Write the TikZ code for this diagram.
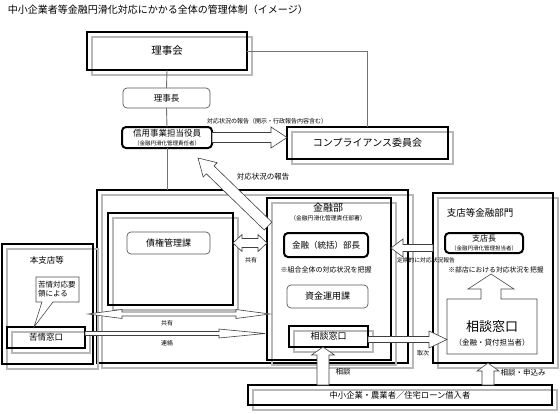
\documentclass[tikz,border=0pt]{standalone}
\usepackage{fontspec}
\setmainfont{Noto Sans CJK JP}
\usetikzlibrary{calc}
\newcommand\myfs[1]{\fontsize{#1}{#1}\selectfont}
% hollow single arrow: start, end, shaft half width, head half width, head length
\newcommand\harrow[5]{%
  \coordinate (hb) at ($(#2)!#5!(#1)$);
  \path[ha] ($(#1)!#3!90:(#2)$) -- ($(hb)!#3!90:(#2)$) -- ($(hb)!#4!90:(#2)$) -- (#2)
    -- ($(hb)!#4!-90:(#2)$) -- ($(hb)!#3!-90:(#2)$) -- ($(#1)!#3!-90:(#2)$) -- cycle;}
% hollow double arrow
\newcommand\hdarrow[5]{%
  \coordinate (hbA) at ($(#2)!#5!(#1)$);
  \coordinate (hbB) at ($(#1)!#5!(#2)$);
  \path[ha] (#1) -- ($(hbB)!#4!90:(#2)$) -- ($(hbB)!#3!90:(#2)$) -- ($(hbA)!#3!90:(#2)$)
    -- ($(hbA)!#4!90:(#2)$) -- (#2) -- ($(hbA)!#4!-90:(#2)$) -- ($(hbA)!#3!-90:(#2)$)
    -- ($(hbB)!#3!-90:(#2)$) -- ($(hbB)!#4!-90:(#2)$) -- cycle;}
\begin{document}
\begin{tikzpicture}[x=1pt,y=-1pt,
  every node/.style={inner sep=0pt,outer sep=0pt},
  sh/.style={preaction={draw=black!28,line width=1.8pt,transform canvas={shift={(5pt,-5pt)}}}},
  tbox/.style={draw=black,line width=2.3pt},
  mbox/.style={draw=black,line width=1.6pt},
  rthin/.style={draw=black!65,line width=0.7pt,rounded corners=4pt},
  rthick/.style={draw=black,line width=2pt,rounded corners=4pt},
  conn/.style={draw=black!55,line width=0.9pt},
  ha/.style={draw=black!75,line width=0.6pt,fill=white,line join=miter},
  callout/.style={draw=black!70,line width=0.6pt},
]
\useasboundingbox (0,0) rectangle (560,413);

\node[anchor=west,font=\myfs{10}] (title) at (8,10) {中小企業者等金融円滑化対応にかかる全体の管理体制（イメージ）};

% top chain
\node[tbox,sh,minimum width=160pt,minimum height=38pt,font=\myfs{10.5}] (rijikai) at (167,51) {理事会};
\node[rthin,minimum width=87pt,minimum height=20pt,font=\myfs{8.5}] (rijicho) at (166.5,98) {理事長};
\node[rthick,minimum width=90pt,minimum height=21pt,align=center,font=\myfs{8.5}] (shin) at (167,137.5)
  {信用事業担当役員\\[1pt]{\myfs{5.5}（金融円滑化管理責任者）}};
\node[tbox,sh,minimum width=161pt,minimum height=32pt,font=\myfs{10}] (comp) at (367.5,143) {コンプライアンス委員会};

% main frame
\node[tbox,sh,minimum width=311pt,minimum height=173pt] (main) at (252.5,276.5) {};
\node[tbox,sh,minimum width=125pt,minimum height=92pt] (saiken) at (170.5,259) {};
\node[rthin,minimum width=83pt,minimum height=22pt,font=\myfs{9}] (saikenka) at (168.5,243) {債権管理課};

% kinyubu
\node[tbox,sh,minimum width=124pt,minimum height=162pt] (kinyubu) at (329,279) {};
\node[font=\myfs{10}] (kinyut) at (328,208) {金融部};
\node[font=\myfs{5.8}] (kinyus) at (328,218.5) {（金融円滑化管理責任部署）};
\node[rthick,minimum width=84pt,minimum height=24pt,font=\myfs{8.5}] (bucho) at (326,245) {金融（統括）部長};
\node[font=\myfs{7}] (haaku1) at (326,270) {※組合全体の対応状況を把握};
\node[rthin,minimum width=81pt,minimum height=23pt,font=\myfs{9}] (shikin) at (327.5,296.5) {資金運用課};
\node[mbox,sh,minimum width=79pt,minimum height=21pt,font=\myfs{9}] (sodan1) at (328.5,336.5) {相談窓口};

% shiten
\node[tbox,sh,minimum width=120pt,minimum height=170pt] (shiten) at (493,278) {};
\node[font=\myfs{9.5}] (shitent) at (480,213) {支店等金融部門};
\node[rthick,minimum width=78pt,minimum height=20pt,align=center,font=\myfs{8}] (shitencho) at (484,243)
  {支店長\\[0.5pt]{\myfs{5.5}（金融円滑化管理担当者）}};
\node[font=\myfs{6.8}] (haaku2) at (496,270) {※部店における対応状況を把握};
\node[minimum width=90pt,minimum height=55pt] (sodan2) at (492,326.5) {};
\draw[callout] (sodan2.south west) -- (sodan2.north west) -- ($(sodan2.north)+(-11,0)$) -- ($(sodan2.north)+(-11,-10)$)
  -- ($(sodan2.north)+(-24,-10)$) -- ($(sodan2.north)+(-1,-25)$) -- ($(sodan2.north)+(22,-10)$)
  -- ($(sodan2.north)+(9,-10)$) -- ($(sodan2.north)+(9,0)$) -- (sodan2.north east) -- (sodan2.south east) -- cycle;
\node[font=\myfs{13}] (sodan2a) at (492,327) {相談窓口};
\node[font=\myfs{7.5}] (sodan2b) at (492,343) {（金融・貸付担当者）};

% honshiten
\node[tbox,sh,minimum width=91pt,minimum height=120pt] (honshi) at (47.5,304) {};
\node[font=\myfs{8.5}] (honshit) at (47,260) {本支店等};
\node[mbox,sh,minimum width=78pt,minimum height=21pt,font=\myfs{8.5}] (kujomado) at (46,337.5) {苦情窓口};
\node[minimum width=43pt,minimum height=25pt,align=left,font=\myfs{7.5},text width=39pt,inner xsep=2pt] (kujo) at (57.5,289.5)
  {苦情対応要\\[1.5pt]領による};
\coordinate (kujotip) at ($(kujomado.north west)+(27,0)$);
\draw[callout] (kujo.south west) -- (kujo.north west) -- (kujo.north east) -- (kujo.south east)
  -- ($(kujo.south west)+(17,0)$) -- (kujotip) -- ($(kujo.south west)+(6,0)$) -- cycle;

% customers
\node[tbox,sh,minimum width=304pt,minimum height=20pt,font=\myfs{8.3}] (chusho) at (400,395) {中小企業・農業者／住宅ローン借入者};

% plain connectors
\draw[conn] (rijikai.south) -- (rijicho.north);
\draw[conn] (rijicho.south) -- (shin.north);
\draw[conn] (shin.south) -- (shin.south |- main.north);
\draw[conn] (rijikai.east) -| (comp.north);

% hollow arrows
\coordinate (a1s) at (shin.east);
\coordinate (a1e) at (comp.west |- shin.east);
\harrow{a1s}{a1e}{5pt}{10.5pt}{16pt}
\node[font=\myfs{6}] (l1) at (267,121) {対応状況の報告（開示・行政報告内容含む）};

\coordinate (a2s) at ($(kinyubu.north west)+(1,28)$);
\coordinate (a2e) at (198,158);
\harrow{a2s}{a2e}{5.5pt}{10pt}{17pt}
\node[font=\myfs{7.5}] (l2) at (263,177) {対応状況の報告};

\coordinate (a3s) at (saiken.east |- saikenka);
\coordinate (a3e) at (kinyubu.west |- saikenka);
\hdarrow{a3s}{a3e}{4.5pt}{8.5pt}{9pt}
\node[font=\myfs{6}] (l3) at (251,260) {共有};

\coordinate (a4s) at ($(shiten.west)+(0,-30)$);
\coordinate (a4e) at (kinyubu.east |- a4s);
\harrow{a4s}{a4e}{3.5pt}{9pt}{12pt}
\node[font=\myfs{5.8}] (l4) at (426,260) {定期的に対応状況報告};

\coordinate (a5s) at ($(sodan1.east)+(0,3)$);
\coordinate (a5e) at (sodan2.west |- a5s);
\harrow{a5s}{a5e}{3pt}{8.5pt}{18pt}
\node[font=\myfs{6}] (l5) at (423,353) {取次};

\coordinate (a6s) at ($(chusho.north west)+(75,0)$);
\coordinate (a6e) at (a6s |- sodan1.south);
\harrow{a6s}{a6e}{6pt}{11.5pt}{8pt}
\node[font=\myfs{7.5}] (l6) at (343,372) {相談};

\coordinate (a7s) at ($(chusho.north)+(88,0)$);
\coordinate (a7e) at (a7s |- shiten.south);
\harrow{a7s}{a7e}{6pt}{11pt}{8pt}
\node[font=\myfs{7.5}] (l7) at (523,373) {相談・申込み};

\coordinate (a8s) at ($(honshi.east)+(-5,10)$);
\coordinate (a8e) at ($(kinyubu.west |- a8s)+(3,0)$);
\hdarrow{a8s}{a8e}{2pt}{4.5pt}{34pt}
\node[font=\myfs{6}] (l8) at (167,323) {共有};

\coordinate (a9s) at ($(kujomado.east)+(0,-4)$);
\coordinate (a9e) at ($(kinyubu.west |- a9s)+(-2,0)$);
\harrow{a9s}{a9e}{2pt}{4.5pt}{46pt}
\node[font=\myfs{6}] (l9) at (167,343) {連絡};
\end{tikzpicture}
\end{document}
